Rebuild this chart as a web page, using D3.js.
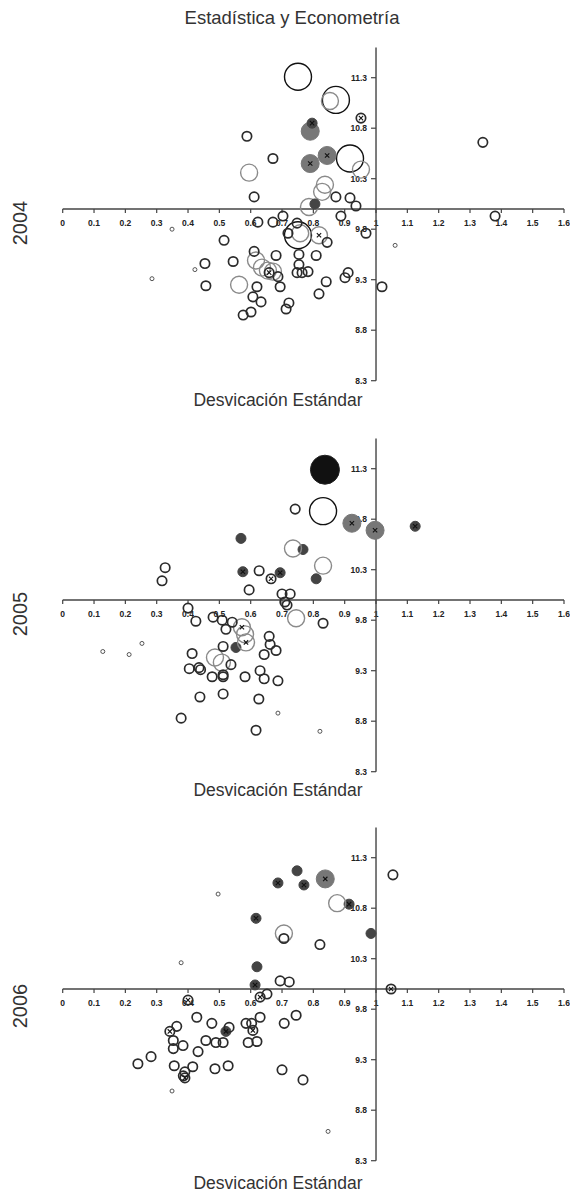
<!DOCTYPE html>
<html>
<head>
<meta charset="utf-8">
<script src="https://cdn.jsdelivr.net/npm/d3@7.9.0/dist/d3.min.js"></script>
<style>
  html, body { margin: 0; padding: 0; background: #fff; }
  svg { display: block; font-family: "Liberation Sans", Arial, sans-serif; }
</style>
</head>
<body>
<svg id="chart" width="570" height="1192"></svg>
<script>
// rows: [desviación estándar, valor, tipo, marca x]
// tipos: o = abierto chico, t = diminuto, g = abierto gris, b = abierto grande,
//        d = relleno oscuro, m = relleno gris, k = relleno negro grande
const data2004 = [
  [0.751, 11.31, 'b'], [0.872, 11.08, 'b'], [0.917, 10.50, 'b'], [0.751, 9.74, 'b'],
  [0.853, 11.07, 'g'], [0.758, 9.76, 'g'], [0.595, 10.36, 'g'], [0.952, 10.39, 'g'],
  [0.837, 10.24, 'g'], [0.828, 10.17, 'g'], [0.786, 10.02, 'g'], [0.818, 9.74, 'g', 1],
  [0.617, 9.49, 'g'], [0.636, 9.42, 'g'], [0.655, 9.39, 'g'], [0.671, 9.38, 'g'], [0.563, 9.25, 'g'],
  [0.79, 10.77, 'm'], [0.79, 10.45, 'm', 1], [0.844, 10.53, 'm', 1],
  [0.796, 10.85, 'd', 1], [0.805, 10.05, 'd'],
  [0.588, 10.72, 'o'], [0.671, 10.50, 'o'], [0.611, 10.12, 'o'], [0.952, 10.90, 'o', 1],
  [1.341, 10.66, 'o'], [0.872, 10.12, 'o'], [0.917, 10.11, 'o'], [0.936, 10.03, 'o'],
  [0.888, 9.93, 'o'], [0.968, 9.76, 'o'], [1.38, 9.93, 'o'], [1.019, 9.23, 'o'],
  [0.844, 9.67, 'o'], [0.809, 9.54, 'o'], [0.754, 9.55, 'o'], [0.754, 9.45, 'o'],
  [0.748, 9.37, 'o'], [0.764, 9.37, 'o'], [0.783, 9.38, 'o'], [0.818, 9.16, 'o'],
  [0.911, 9.37, 'o'], [0.901, 9.32, 'o'], [0.841, 9.28, 'o'], [0.722, 9.07, 'o'],
  [0.713, 9.01, 'o'], [0.703, 9.93, 'o'], [0.623, 9.87, 'o'], [0.671, 9.87, 'o'],
  [0.748, 9.86, 'o'], [0.719, 9.76, 'o'], [0.515, 9.69, 'o'], [0.611, 9.58, 'o'],
  [0.544, 9.48, 'o'], [0.454, 9.46, 'o'], [0.681, 9.54, 'o'], [0.457, 9.24, 'o'],
  [0.620, 9.23, 'o'], [0.607, 9.13, 'o'], [0.633, 9.08, 'o'], [0.601, 8.98, 'o'],
  [0.576, 8.95, 'o'], [0.694, 9.23, 'o'], [0.687, 9.33, 'o'], [0.659, 9.37, 'o', 1],
  [1.061, 9.64, 't'], [0.349, 9.80, 't'], [0.422, 9.40, 't'], [0.285, 9.31, 't']
];

const data2005 = [
  [0.837, 11.29, 'k'], [0.831, 10.88, 'b'],
  [0.923, 10.76, 'm', 1], [0.997, 10.69, 'm', 1],
  [1.125, 10.73, 'd', 1], [0.767, 10.50, 'd'], [0.809, 10.21, 'd'], [0.694, 10.27, 'd', 1],
  [0.569, 10.61, 'd'], [0.575, 10.28, 'd', 1], [0.553, 9.53, 'd'],
  [0.735, 10.51, 'g'], [0.831, 10.34, 'g'], [0.745, 9.82, 'g'], [0.572, 9.73, 'g', 1],
  [0.585, 9.58, 'g', 1], [0.582, 9.66, 'g'], [0.486, 9.43, 'g'], [0.508, 9.38, 'g'],
  [0.742, 10.90, 'o'], [0.70, 10.06, 'o'], [0.726, 10.06, 'o'], [0.709, 9.98, 'o'],
  [0.716, 9.95, 'o'], [0.831, 9.77, 'o'], [0.327, 10.32, 'o'], [0.317, 10.19, 'o'],
  [0.627, 10.29, 'o'], [0.665, 10.21, 'o', 1], [0.595, 10.10, 'o'], [0.40, 9.92, 'o'],
  [0.425, 9.79, 'o'], [0.48, 9.83, 'o'], [0.509, 9.80, 'o'], [0.541, 9.78, 'o'],
  [0.521, 9.71, 'o'], [0.512, 9.54, 'o'], [0.659, 9.64, 'o'], [0.662, 9.56, 'o'],
  [0.681, 9.50, 'o'], [0.643, 9.46, 'o'], [0.413, 9.47, 'o'], [0.537, 9.36, 'o'],
  [0.404, 9.32, 'o'], [0.435, 9.33, 'o'], [0.44, 9.31, 'o'], [0.477, 9.24, 'o'],
  [0.512, 9.26, 'o'], [0.512, 9.24, 'o'], [0.582, 9.24, 'o'], [0.63, 9.30, 'o'],
  [0.643, 9.22, 'o'], [0.687, 9.20, 'o'], [0.438, 9.04, 'o'], [0.512, 9.07, 'o'],
  [0.626, 9.02, 'o'], [0.378, 8.83, 'o'], [0.617, 8.71, 'o'],
  [0.128, 9.49, 't'], [0.212, 9.46, 't'], [0.253, 9.57, 't'], [0.687, 8.88, 't'], [0.821, 8.70, 't']
];

const data2006 = [
  [0.838, 11.09, 'm', 1],
  [0.748, 11.17, 'd'], [0.687, 11.05, 'd', 1], [0.77, 11.03, 'd', 1], [0.914, 10.84, 'd', 1],
  [0.617, 10.70, 'd', 1], [0.984, 10.55, 'd'], [0.62, 10.22, 'd'], [0.614, 10.04, 'd', 1],
  [0.521, 9.58, 'd', 1],
  [0.876, 10.85, 'g'], [0.706, 10.55, 'g'],
  [1.054, 11.13, 'o'], [0.706, 10.50, 'o'], [0.821, 10.44, 'o'], [0.694, 10.08, 'o'],
  [0.723, 10.07, 'o'], [1.048, 10.00, 'o', 1], [0.652, 9.95, 'o'], [0.63, 9.92, 'o', 1],
  [0.40, 9.89, 'o', 1], [0.428, 9.72, 'o'], [0.476, 9.66, 'o'], [0.531, 9.62, 'o'],
  [0.364, 9.63, 'o'], [0.342, 9.58, 'o', 1], [0.585, 9.66, 'o'], [0.603, 9.66, 'o'],
  [0.607, 9.59, 'o', 1], [0.630, 9.72, 'o'], [0.353, 9.49, 'o'], [0.384, 9.44, 'o'],
  [0.353, 9.41, 'o'], [0.457, 9.49, 'o'], [0.489, 9.47, 'o'], [0.512, 9.47, 'o'],
  [0.592, 9.47, 'o'], [0.62, 9.48, 'o'], [0.432, 9.38, 'o'], [0.282, 9.33, 'o'],
  [0.24, 9.26, 'o'], [0.356, 9.24, 'o'], [0.415, 9.23, 'o'], [0.486, 9.21, 'o'],
  [0.528, 9.24, 'o'], [0.39, 9.18, 'o'], [0.385, 9.14, 'o'], [0.39, 9.12, 'o', 1],
  [0.707, 9.66, 'o'], [0.745, 9.74, 'o'], [0.70, 9.20, 'o'], [0.767, 9.10, 'o'],
  [0.496, 10.94, 't'], [0.378, 10.26, 't'], [0.349, 8.99, 't'], [0.847, 8.59, 't']
];

const years = ['2004', '2005', '2006'];
const xTicks = [0, 0.1, 0.2, 0.3, 0.4, 0.5, 0.6, 0.7, 0.8, 0.9, 1, 1.1, 1.2, 1.3, 1.4, 1.5, 1.6];
const yTicks = [8.3, 8.8, 9.3, 9.8, 10.3, 10.8, 11.3];

const panels = [
  { year: years[0], data: data2004, axisY: 209, yearY: 223, titleY: 406 },
  { year: years[1], data: data2005, axisY: 600, yearY: 614, titleY: 796 },
  { year: years[2], data: data2006, axisY: 989, yearY: 1006, titleY: 1189 }
];

const styles = {
  o: { r: 4.7, fill: 'none', stroke: '#2b2b2b', sw: 1.7 },
  t: { r: 2, fill: 'none', stroke: '#555', sw: 1 },
  g: { r: 8.5, fill: 'none', stroke: '#8a8a8a', sw: 1.4 },
  b: { r: 13.5, fill: 'none', stroke: '#111', sw: 1.4 },
  d: { r: 5, fill: '#444', stroke: '#444', sw: 1 },
  m: { r: 9, fill: '#777', stroke: '#777', sw: 1 },
  k: { r: 14.5, fill: '#111', stroke: '#222', sw: 1 }
};

const svg = d3.select('#chart');
const x = d3.scaleLinear().domain([0, 1.6]).range([62.7, 564]);

svg.append('text')
  .attr('x', 292).attr('y', 24)
  .attr('text-anchor', 'middle')
  .attr('font-size', 18.5).attr('fill', '#333')
  .text('Estadística y Econometría');

const crossPath = d3.symbol().type(d3.symbolX).size(14)();

panels.forEach((p) => {
  const y = d3.scaleLinear().domain([8.3, 11.3]).range([p.axisY + 171.7, p.axisY - 131.3]);
  const g = svg.append('g');
  const x0 = x(1);

  // eje x
  g.append('line')
    .attr('x1', x(0)).attr('x2', x(1.6))
    .attr('y1', p.axisY).attr('y2', p.axisY)
    .attr('stroke', '#444').attr('stroke-width', 1.4);
  g.selectAll('.xt').data(xTicks).join('line')
    .attr('x1', (d) => x(d)).attr('x2', (d) => x(d))
    .attr('y1', p.axisY).attr('y2', p.axisY + 4)
    .attr('stroke', '#444').attr('stroke-width', 1.2);
  g.selectAll('.xl').data(xTicks).join('text')
    .attr('x', (d) => x(d)).attr('y', p.axisY + 17)
    .attr('text-anchor', 'middle')
    .attr('font-size', 8.5).attr('font-weight', 'bold').attr('fill', '#222')
    .text((d) => String(d));

  // eje y
  g.append('line')
    .attr('x1', x0).attr('x2', x0)
    .attr('y1', y(11.6)).attr('y2', y(8.3))
    .attr('stroke', '#444').attr('stroke-width', 1.4);
  g.selectAll('.yt').data(yTicks).join('line')
    .attr('x1', x0 - 5).attr('x2', x0)
    .attr('y1', (d) => y(d)).attr('y2', (d) => y(d))
    .attr('stroke', '#444').attr('stroke-width', 1.2);
  g.selectAll('.yl').data(yTicks).join('text')
    .attr('x', x0 - 9).attr('y', (d) => y(d) + 3)
    .attr('text-anchor', 'end')
    .attr('font-size', 8.5).attr('font-weight', 'bold').attr('fill', '#222')
    .text((d) => d.toFixed(1));

  // burbujas
  g.selectAll('.pt').data(p.data).join('circle')
    .attr('cx', (d) => x(d[0])).attr('cy', (d) => y(d[1]))
    .attr('r', (d) => styles[d[2]].r)
    .attr('fill', (d) => styles[d[2]].fill)
    .attr('stroke', (d) => styles[d[2]].stroke)
    .attr('stroke-width', (d) => styles[d[2]].sw);
  g.selectAll('.cr').data(p.data.filter((d) => d[3])).join('path')
    .attr('d', crossPath)
    .attr('transform', (d) => `translate(${x(d[0])},${y(d[1])})`)
    .attr('stroke', '#111').attr('stroke-width', 1.1).attr('fill', 'none');

  g.append('text')
    .attr('transform', `translate(27,${p.yearY}) rotate(-90)`)
    .attr('text-anchor', 'middle')
    .attr('font-size', 20).attr('fill', '#333')
    .text(p.year);

  g.append('text')
    .attr('x', 278).attr('y', p.titleY)
    .attr('text-anchor', 'middle')
    .attr('font-size', 17.5).attr('fill', '#333')
    .text('Desvicación Estándar');
});
</script>
</body>
</html>
